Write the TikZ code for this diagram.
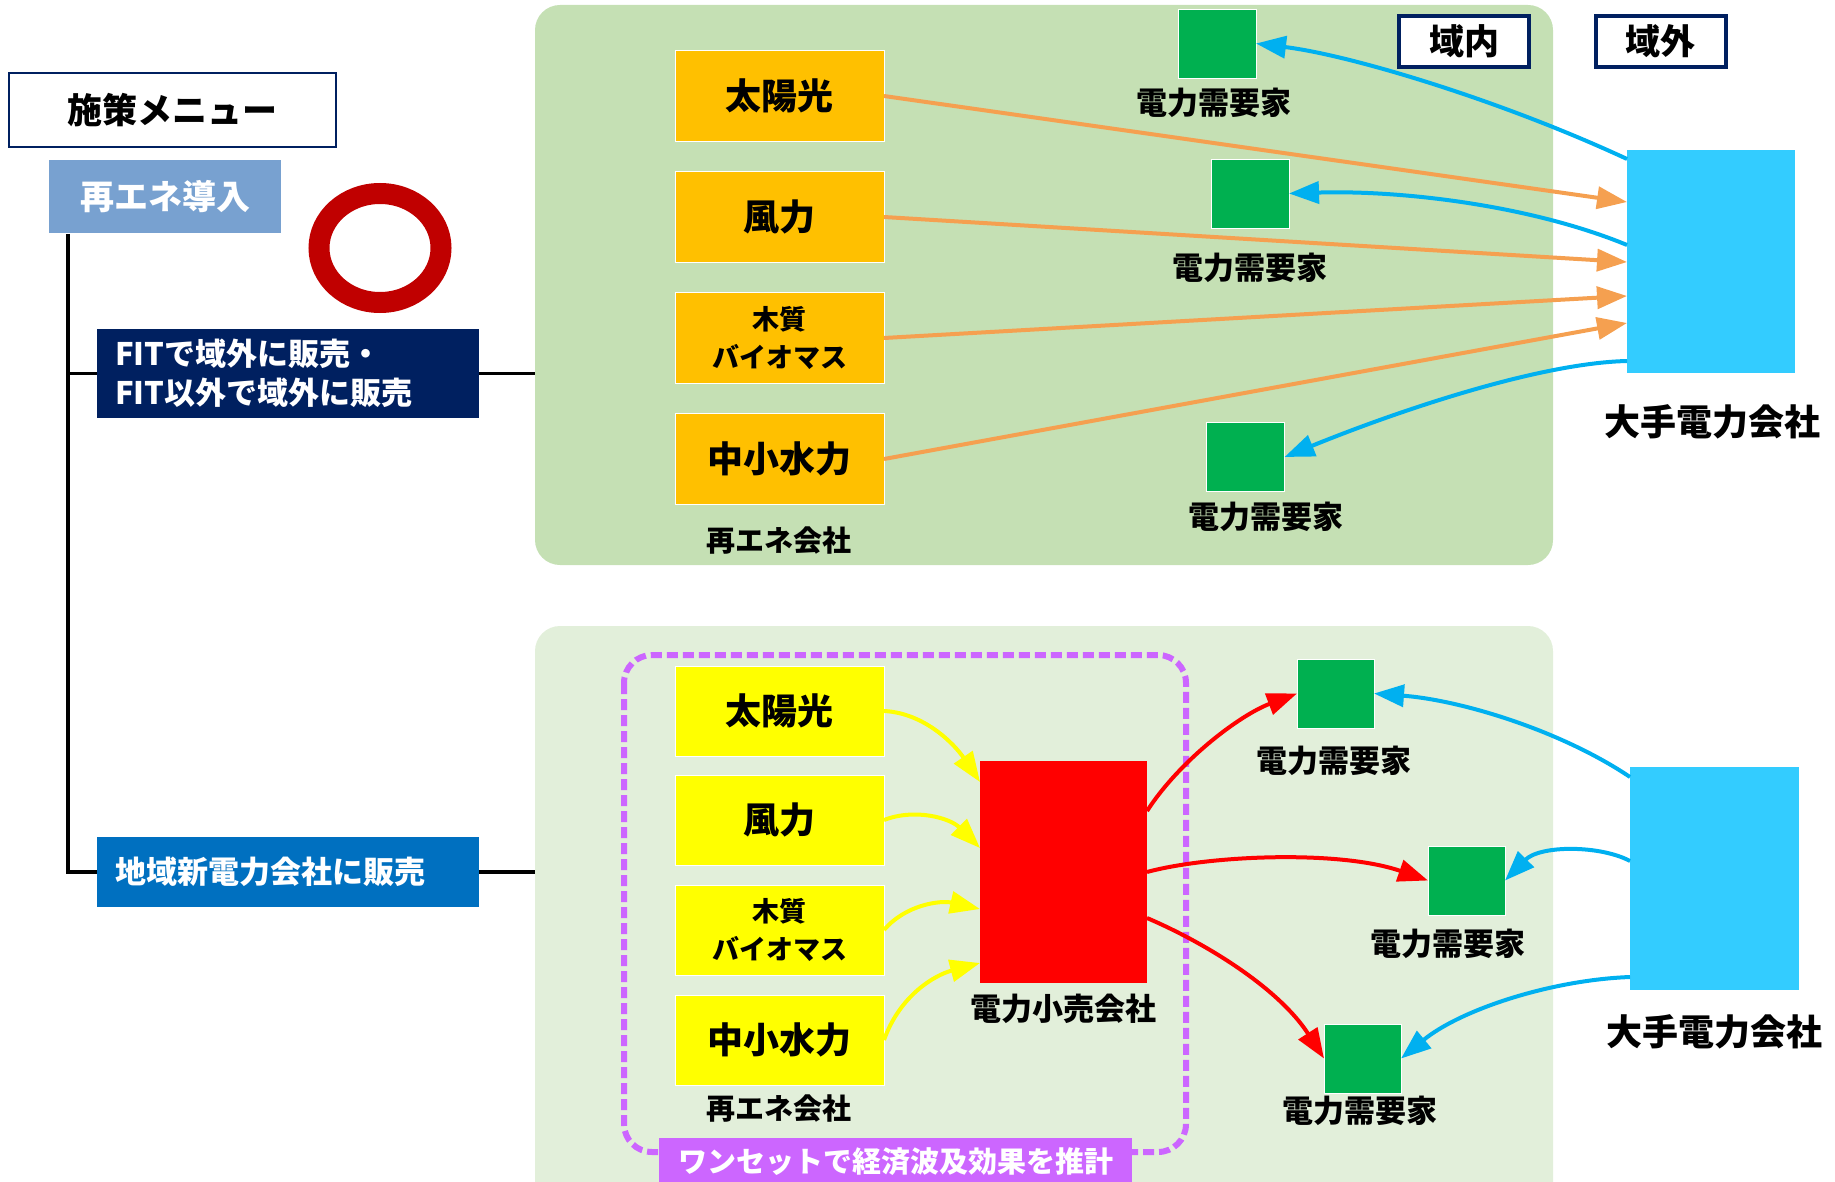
\documentclass[tikz,border=0pt]{standalone}
\usepackage{fontspec}
\setmainfont{Noto Sans CJK JP}
\usetikzlibrary{arrows.meta,calc,shapes.geometric}
\definecolor{navy}{HTML}{002060}
\definecolor{panelA}{HTML}{C5E0B4}
\definecolor{panelB}{HTML}{E2EFDA}
\definecolor{orangebox}{HTML}{FFC000}
\definecolor{orangearr}{HTML}{F5A050}
\definecolor{cyanarr}{HTML}{00B0F0}
\definecolor{bigblue}{HTML}{33CCFF}
\definecolor{greenbox}{HTML}{00B050}
\definecolor{yellowbox}{HTML}{FFFF00}
\definecolor{redbox}{HTML}{FF0000}
\definecolor{purp}{HTML}{CC66FF}
\definecolor{saieneblue}{HTML}{78A1D0}
\definecolor{midblue}{HTML}{0070C0}
\definecolor{ringred}{HTML}{C00000}
\begin{document}
\begin{tikzpicture}[x=1pt,y=-1pt,
  every node/.style={inner sep=0pt,outer sep=0pt},
  jp/.style={font=\bfseries\fontsize{#1}{#1}\selectfont},
  lbl/.style={jp=31},
  src/.style={minimum width=209pt,minimum height=91pt,draw=white,line width=1pt,align=center},
  cust/.style={fill=greenbox,draw=white,line width=0.8pt,minimum width=78pt,minimum height=69pt},
  big/.style={fill=bigblue,minimum width=168pt,minimum height=223pt},
  conn/.style={line width=3.5pt,black},
  arr/.style={line width=4pt,-{Triangle[length=30pt,width=22pt]}},
  tag/.style={draw=navy,line width=4pt,fill=white,minimum width=130pt,minimum height=51pt,jp=35}
]
\useasboundingbox (0,0) rectangle (1835,1182);
\clip (0,0) rectangle (1835,1182);

% panels
\node[fill=panelA,rounded corners=25pt,minimum width=1018pt,minimum height=560pt] (toppanel) at (1044,285) {};
\node[fill=panelB,rounded corners=25pt,minimum width=1018pt,minimum height=604pt] (botpanel) at (1044,928) {};

% left menu
\node[draw=navy,line width=1.5pt,fill=white,minimum width=327pt,minimum height=74pt,jp=35] (menu) at (172.5,110) {施策メニュー};
\node[fill=saieneblue,minimum width=232pt,minimum height=73pt,text=white,jp=34] (saiene) at (165,196.5) {再エネ導入};
\node[ellipse,draw=ringred,line width=21pt,minimum width=122pt,minimum height=109pt] (ring) at (380,248) {};
\node[fill=navy,text=white,minimum height=89pt,text width=346pt,inner xsep=18pt,align=left,font=\bfseries\fontsize{31}{39}\selectfont] (fit) at (288,373.5) {FITで域外に販売・\\FIT以外で域外に販売};
\node[fill=midblue,text=white,minimum height=70pt,text width=346pt,inner xsep=18pt,align=left,jp=31] (chiiki) at (288,872) {地域新電力会社に販売};

\coordinate (trunk) at (68,234);
\draw[conn] (trunk) |- (chiiki.west);
\draw[conn] (trunk |- fit.west) -- (fit.west);
\draw[conn] (fit.east) -- (fit.east -| toppanel.west);
\draw[conn] (chiiki.east) -- (chiiki.east -| botpanel.west);

% region tags
\node[tag] (ikinai) at (1464,41.5) {域内};
\node[tag] (ikigai) at (1660.5,41.5) {域外};

% ---------- top panel ----------
\node[src,fill=orangebox,jp=36] (t1) at (779.5,96) {太陽光};
\node[src,fill=orangebox,jp=36] (t2) at (779.5,217) {風力};
\node[src,fill=orangebox,font=\bfseries\fontsize{27}{38}\selectfont] (t3) at (779.5,338) {木質\\バイオマス};
\node[src,fill=orangebox,jp=36] (t4) at (779.5,459) {中小水力};
\node[jp=29] (tcomp) at (779,541) {再エネ会社};

\node[cust] (g1) at (1217,43.5) {};
\node[cust] (g2) at (1250,193.5) {};
\node[cust] (g3) at (1245.5,457) {};
\node[lbl] (g1l) at (1214,103) {電力需要家};
\node[lbl] (g2l) at (1250,268) {電力需要家};
\node[lbl] (g3l) at (1266,517) {電力需要家};

\node[big] (bt) at (1711,261.5) {};
\node[jp=36] (btl) at (1712,422) {大手電力会社};

\draw[arr,orangearr] (t1.east) -- ([yshift=-52pt]bt.north west);
\draw[arr,orangearr] (t2.east) -- ([yshift=-112pt]bt.north west);
\draw[arr,orangearr] (t3.east) -- ([yshift=-146pt]bt.north west);
\draw[arr,orangearr] (t4.east) -- ([yshift=-173pt]bt.north west);

\draw[arr,cyanarr] ([yshift=-9pt]bt.north west) .. controls (1500,100) and (1350,55) .. (g1.east);
\draw[arr,cyanarr] ([yshift=-95pt]bt.north west) .. controls (1530,205) and (1400,190) .. (g2.east);
\draw[arr,cyanarr] ([yshift=-211pt]bt.north west) .. controls (1540,363) and (1400,410) .. (g3.east);

% ---------- bottom panel ----------
\draw[purp,line width=6pt,dash pattern=on 11pt off 5pt,rounded corners=28pt] (624,655) rectangle (1186,1152);

\node[src,fill=yellowbox,minimum height=90pt,jp=36] (y1) at (779.5,711) {太陽光};
\node[src,fill=yellowbox,minimum height=90pt,jp=36] (y2) at (779.5,820) {風力};
\node[src,fill=yellowbox,minimum height=90pt,font=\bfseries\fontsize{27}{38}\selectfont] (y3) at (779.5,930) {木質\\バイオマス};
\node[src,fill=yellowbox,minimum height=90pt,jp=36] (y4) at (779.5,1040) {中小水力};
\node[jp=29] (ycomp) at (779,1109) {再エネ会社};

\node[fill=redbox,minimum width=167pt,minimum height=222pt] (retail) at (1063.5,872) {};
\node[lbl] (retaill) at (1063,1009) {電力小売会社};

\node[fill=purp,text=white,minimum width=473pt,minimum height=48pt,jp=29] (oneset) at (895.5,1162) {ワンセットで経済波及効果を推計};

\node[cust,minimum width=77pt] (b1) at (1335.5,693.5) {};
\node[cust,minimum width=77pt] (b2) at (1466.5,880.5) {};
\node[cust,minimum width=77pt] (b3) at (1362.5,1058.5) {};
\node[lbl] (b1l) at (1334,761) {電力需要家};
\node[lbl] (b2l) at (1448,944) {電力需要家};
\node[lbl] (b3l) at (1360,1111) {電力需要家};

\node[big,minimum width=169pt] (bb) at (1714.5,878.5) {};
\node[jp=36] (bbl) at (1714,1032) {大手電力会社};

\draw[arr,yellowbox] (y1.east) .. controls (925,713) and (955,745) .. ([yshift=-21pt]retail.north west);
\draw[arr,yellowbox] (y2.east) .. controls (915,808) and (950,818) .. ([yshift=-87pt]retail.north west);
\draw[arr,yellowbox] (y3.east) .. controls (905,905) and (940,900) .. ([yshift=-148pt]retail.north west);
\draw[arr,yellowbox] (y4.east) .. controls (900,995) and (935,975) .. ([yshift=-202pt]retail.north west);

\draw[arr,redbox] ([yshift=-50pt]retail.north east) .. controls (1180,760) and (1240,715) .. (b1.west);
\draw[arr,redbox] ([yshift=-111pt]retail.north east) .. controls (1210,855) and (1340,850) .. (b2.west);
\draw[arr,redbox] ([yshift=-157pt]retail.north east) .. controls (1210,945) and (1280,990) .. (b3.west);

\draw[arr,cyanarr] ([yshift=-10pt]bb.north west) .. controls (1560,730) and (1460,700) .. (b1.east);
\draw[arr,cyanarr] ([yshift=-94pt]bb.north west) .. controls (1600,845) and (1540,845) .. (b2.east);
\draw[arr,cyanarr] ([yshift=-210pt]bb.north west) .. controls (1550,980) and (1460,1010) .. (b3.east);
\end{tikzpicture}
\end{document}
